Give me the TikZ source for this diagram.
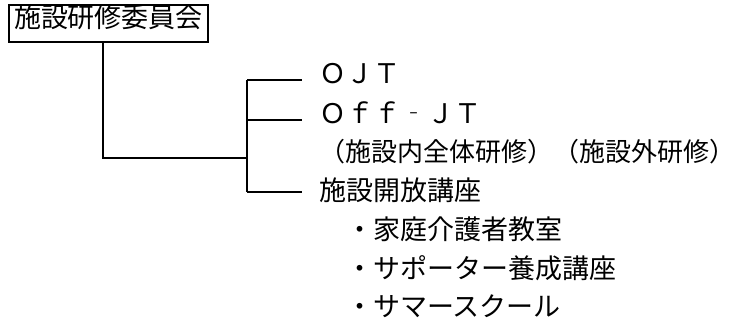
\documentclass[tikz,border=0pt]{standalone}
\usepackage{fontspec}
\setmainfont{Noto Sans CJK JP}
\usetikzlibrary{positioning}
\tikzset{
myitem/.style={
  anchor=west,
  inner sep=0pt,
  font=\fontsize{27pt}{30pt}\selectfont,
  text height=0.88em,
  text depth=0.12em
  },
mybox/.style={
  myitem,
  anchor=center,
  draw=black,
  line width=1.6pt,
  minimum width=199pt,
  minimum height=37pt
  },
myline/.style={line width=1.2pt},
mytick/.style={myline, shorten >=17pt}
}
\begin{document}
\begin{tikzpicture}[>=latex]
\useasboundingbox (0,0) rectangle (740pt,-325pt);
\node[mybox] (committee) at (108.5pt,-23.5pt) {施設研修委員会};
% branches
\node[myitem] (ojt)   at (319pt,-80pt)  {ＯＪＴ};
\node[myitem] (offjt) at (319pt,-120pt) {Ｏｆｆ‐ＪＴ};
\node[myitem, font=\fontsize{26pt}{30pt}\selectfont]
      (inout) at (319pt,-158pt) {（施設内全体研修）（施設外研修）};
\node[myitem] (open)  at (319pt,-197pt) {施設開放講座};
\node[myitem] (home)  at (319pt,-236pt) {　・家庭介護者教室};
\node[myitem] (supp)  at (319pt,-275pt) {　・サポーター養成講座};
\node[myitem] (summer) at (319pt,-313pt) {　・サマースクール};
\coordinate (trunk)  at (103pt,-42pt);
\coordinate (top)    at (247pt,-80pt);
\coordinate (fork)   at (247pt,-158pt);
\coordinate (bottom) at (247pt,-192pt);
% connectors
\draw[myline] (committee.south -| trunk) |- (fork);
\draw[myline] (top) -- (bottom);
\draw[mytick] (top) -- (ojt.west);
\draw[mytick] (top |- offjt.west) -- (offjt.west);
\draw[mytick] (bottom) -- (bottom -| open.west);
\end{tikzpicture}
\end{document}
